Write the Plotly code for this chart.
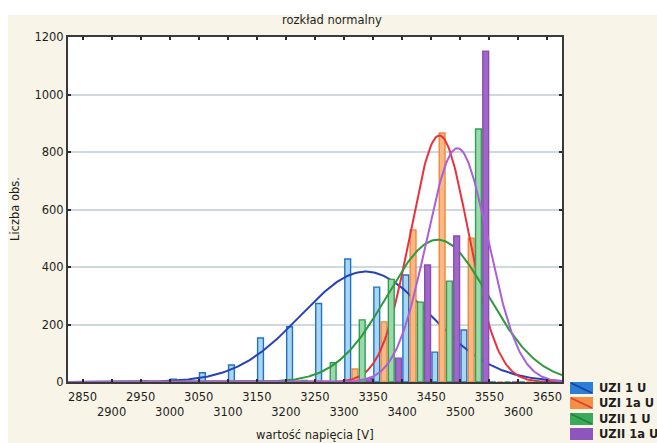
import numpy as np
import plotly.graph_objects as go

# Histogram bins (lower edges, V) and counts per series
bin_starts = list(range(2850, 3650, 50))
bin_width = 50
series_names = ["UZI 1 U", "UZI 1a U", "UZII 1 U", "UZII 1a U"]
uzi_1_counts = [0, 0, 3, 10, 32, 59, 153, 192, 273, 428, 330, 372, 104, 181, 0, 0]
uzi_1a_counts = [0, 0, 0, 0, 0, 0, 0, 0, 0, 45, 209, 529, 866, 500, 0, 0]
uzii_1_counts = [0, 0, 0, 0, 0, 2, 3, 5, 67, 216, 357, 278, 351, 880, 0, 0]
uzii_1a_counts = [0, 0, 0, 0, 0, 0, 0, 0, 0, 12, 83, 407, 508, 1151, 0, 0]

# Fitted normal distribution parameters (mean, standard deviation)
fit_mean = [3337, 3464, 3461, 3495]
fit_sd = [111, 50, 87, 53]

x_tick_values = list(range(2850, 3700, 50))
y_tick_values = list(range(0, 1400, 200))

# Styling
bar_fill = ["#aad6f2", "#f9b884", "#9bd8ab", "#a068c6"]
bar_edge = ["#1e73c8", "#ec8a3e", "#2f9e55", "#8a4cb3"]
curve_color = ["#2540b8", "#e8323c", "#2f9a3a", "#aa60d8"]
swatch_fill = ["#2a7fd4", "#f39045", "#3aaa5a", "#8f55bf"]
swatch_line = ["#1b3f9a", "#e23a2f", "#23823a", "#8f55bf"]

X_RANGE = [2825, 3675]
Y_RANGE = [0, 1200]
FONT = "DejaVu Sans, Verdana, sans-serif"
TEXT = "#1e1e1e"

all_counts = [uzi_1_counts, uzi_1a_counts, uzii_1_counts, uzii_1a_counts]
centers = [b + bin_width / 2 for b in bin_starts]
slot = bin_width / 4
bar_w = slot * 0.8
x_curve = np.linspace(X_RANGE[0], X_RANGE[1], 400)

fig = go.Figure()
for i, counts in enumerate(all_counts):
    xa = "x" if i == 0 else f"x{i + 1}"
    ya = "y" if i == 0 else f"y{i + 1}"
    fig.add_trace(go.Bar(
        x=centers, y=counts, name=series_names[i],
        width=bar_w, offset=-bin_width / 2 + slot * i + (slot - bar_w) / 2,
        marker=dict(color=bar_fill[i], line=dict(color=bar_edge[i], width=1.4)),
        xaxis=xa, yaxis=ya, showlegend=False,
    ))
    n = sum(counts)
    m, s = fit_mean[i], fit_sd[i]
    y_fit = n * bin_width / (s * np.sqrt(2 * np.pi)) * np.exp(-0.5 * ((x_curve - m) / s) ** 2)
    fig.add_trace(go.Scatter(
        x=x_curve, y=y_fit, mode="lines",
        line=dict(color=curve_color[i], width=2),
        xaxis=xa, yaxis=ya, showlegend=False, hoverinfo="skip",
    ))

# Staggered tick labels on the x axis
x_tick_text = [str(v) if k % 2 == 0 else "<br>" + str(v) for k, v in enumerate(x_tick_values)]

axis_common = dict(
    showline=True, linecolor="#3a3a3a", linewidth=2, mirror="allticks",
    ticks="inside", ticklen=3, tickwidth=2, tickcolor="#2a2a2a",
    tickfont=dict(family=FONT, size=11.5, color=TEXT), zeroline=False,
)

layout = dict(
    width=657, height=443,
    margin=dict(l=68, r=95, t=37, b=61),
    paper_bgcolor="#ffffff", plot_bgcolor="#ffffff",
    barmode="overlay",
    xaxis=dict(range=X_RANGE, tickmode="array", tickvals=x_tick_values,
               ticktext=x_tick_text, showgrid=False, ticklabelstandoff=3,
               tickangle=0, **axis_common),
    yaxis=dict(range=Y_RANGE, tickmode="array", tickvals=y_tick_values,
               showgrid=True, gridcolor="#cdd8df", gridwidth=1.5, **axis_common),
    showlegend=False,
)
for i in range(2, 5):
    layout[f"xaxis{i}"] = dict(range=X_RANGE, overlaying="x", visible=False)
    layout[f"yaxis{i}"] = dict(range=Y_RANGE, overlaying="y", visible=False)
fig.update_layout(**layout)

# Pixel helpers for paper coordinates
PL, PR, PT, PB = 68, 562, 37, 382
def px_x(px):
    return (px - PL) / (PR - PL)
def px_y(py):
    return (PB - py) / (PB - PT)

shapes = [
    dict(type="rect", xref="paper", yref="paper", layer="below",
         x0=px_x(8), x1=px_x(660), y0=px_y(446), y1=px_y(15),
         fillcolor="#f8f5e8", line=dict(width=0)),
    dict(type="rect", xref="paper", yref="paper", layer="below",
         x0=0, x1=1, y0=0, y1=1, fillcolor="#ffffff", line=dict(width=0)),
]
annotations = [
    dict(text="rozkład normalny", xref="paper", yref="paper",
         x=px_x(332), y=px_y(20), xanchor="center", yanchor="middle", showarrow=False,
         font=dict(family=FONT, size=11.5, color=TEXT)),
    dict(text="wartość napięcia [V]", xref="paper", yref="paper",
         x=px_x(315), y=px_y(435), xanchor="center", yanchor="middle", showarrow=False,
         font=dict(family=FONT, size=11.5, color=TEXT)),
    dict(text="Liczba obs.", xref="paper", yref="paper", textangle=-90,
         x=px_x(15), y=px_y(209), xanchor="center", yanchor="middle", showarrow=False,
         font=dict(family=FONT, size=11.5, color=TEXT)),
]

# Legend: swatch with diagonal stroke plus label
legend_y = [388, 403, 419, 434]
for i, name in enumerate(series_names):
    cy = legend_y[i]
    shapes.append(dict(type="rect", xref="paper", yref="paper",
                       x0=px_x(570), x1=px_x(593), y0=px_y(cy + 6), y1=px_y(cy - 6),
                       fillcolor=swatch_fill[i], line=dict(width=0)))
    shapes.append(dict(type="line", xref="paper", yref="paper",
                       x0=px_x(571), x1=px_x(592), y0=px_y(cy - 5), y1=px_y(cy + 5),
                       line=dict(color=swatch_line[i], width=1.5)))
    annotations.append(dict(text=f"<b>{name}</b>", xref="paper", yref="paper",
                            x=px_x(597), y=px_y(cy), xanchor="left", yanchor="middle",
                            showarrow=False,
                            font=dict(family=FONT, size=11.5, color=TEXT)))

fig.update_layout(shapes=shapes, annotations=annotations)
fig.write_html("out.html")
